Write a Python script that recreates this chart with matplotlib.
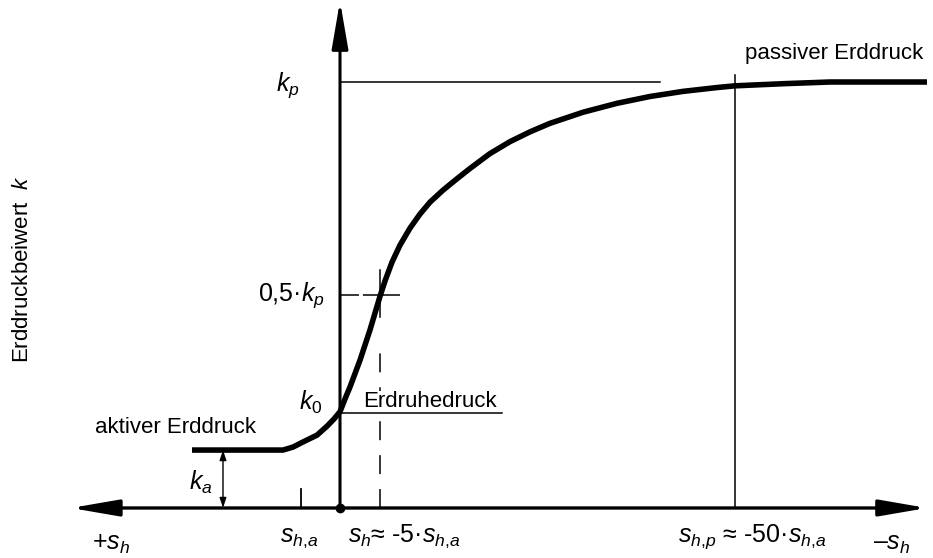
import matplotlib
matplotlib.use('Agg')
import matplotlib.pyplot as plt

matplotlib.rcParams['font.family'] = 'Liberation Sans'
matplotlib.rcParams['mathtext.fontset'] = 'custom'
matplotlib.rcParams['mathtext.rm'] = 'Liberation Sans'
matplotlib.rcParams['mathtext.it'] = 'Liberation Sans:italic'
matplotlib.rcParams['font.size'] = 16

# Verschiebung s (Einheit: s_h,a) und Erddruckbeiwert k (Einheit: k_p)
s_curve = [-3.795, -1.462, -1.205, -0.949, -0.590, -0.333, -0.154, 0.0, 0.128, 0.256,
           0.513, 0.769, 1.026, 1.154, 1.333, 1.538, 1.795, 2.051, 2.308, 2.641, 2.974,
           3.333, 3.846, 4.359, 4.872, 5.385, 6.231, 7.103, 7.949, 8.795, 9.667, 10.128,
           11.359, 12.564, 15.051]
k_curve = [0.136, 0.136, 0.143, 0.155, 0.171, 0.192, 0.209, 0.226, 0.256, 0.284,
           0.347, 0.418, 0.497, 0.533, 0.577, 0.617, 0.657, 0.690, 0.718, 0.746, 0.771,
           0.797, 0.832, 0.860, 0.883, 0.903, 0.929, 0.950, 0.966, 0.978, 0.987, 0.991,
           0.996, 1.0, 1.0]

k_p = 1.0
k_half = 0.5
k_0 = 0.223
k_a = 0.136
s_ha = -1.0
s_half = 1.03
s_hp = 10.13

fig = plt.figure(figsize=(9.33, 5.58), dpi=100)
ax = fig.add_axes([0, 0, 1, 1])
ax.set_xlim(-8.718, 15.205)
ax.set_ylim(-0.1174, 1.1925)
ax.axis('off')

# Achsen mit Pfeilen
ax.annotate('', xy=(15.05, 0), xytext=(-6.9, 0),
            arrowprops=dict(arrowstyle='<|-|>,head_length=29,head_width=5', mutation_scale=1,
                            lw=2.4, color='k', shrinkA=0, shrinkB=0))
ax.annotate('', xy=(0, 1.19), xytext=(0, 0),
            arrowprops=dict(arrowstyle='-|>,head_length=29,head_width=5', mutation_scale=1,
                            lw=2.2, color='k', shrinkA=0, shrinkB=0))
ax.plot([0], [0], 'o', color='k', ms=6, zorder=5)

# Hilfslinien
ax.plot([0, 8.21], [k_p, k_p], color='k', lw=1.1)
ax.plot([0, 4.15], [k_0, k_0], color='k', lw=1.1)
ax.plot([s_hp, s_hp], [0, 1.016], color='k', lw=1.1)
ax.plot([0, 1.54], [k_half, k_half], color='k', lw=1.1, dashes=(12.4, 2.6, 40, 10))
ax.plot([s_half, s_half], [0, 0.38], color='k', lw=1.1, dashes=(12.4, 9.8))
ax.plot([s_half, s_half], [0.448, 0.559], color='k', lw=1.1)
ax.plot([s_ha, s_ha], [0, 0.045], color='k', lw=1.3)
ax.annotate('', xy=(-3.0, k_a), xytext=(-3.0, 0),
            arrowprops=dict(arrowstyle='<|-|>,head_length=6,head_width=2', mutation_scale=1,
                            lw=1.0, color='k', shrinkA=0, shrinkB=0))

# Kurve
ax.plot(s_curve, k_curve, color='k', lw=4, solid_capstyle='butt', solid_joinstyle='round')

# Beschriftungen
ax.text(-1.03, 0.993, '$k_p$', ha='right', va='center', fontsize=18)
ax.text(-0.38, 0.5, '0,5·$k_p$', ha='right', va='center', fontsize=18)
ax.text(-0.44, 0.249, '$k_0$', ha='right', va='center', fontsize=18)
ax.text(-3.26, 0.061, '$k_a$', ha='right', va='center', fontsize=18)
ax.text(0.59, 0.237, 'Erdruhedruck', ha='left', va='baseline',
        bbox=dict(facecolor='white', edgecolor='none', pad=0))
ax.text(-6.28, 0.176, 'aktiver Erddruck', ha='left', va='baseline')
ax.text(10.38, 1.054, 'passiver Erddruck', ha='left', va='baseline')
ax.text(-8.15, 0.559, 'Erddruckbeiwert  $k$', rotation=90, ha='center', va='center')
ax.text(-1.54, -0.080, r'$s_{h,\!a}$', ha='left', va='baseline', fontsize=18)
ax.text(0.21, -0.080, r'$s_h$≈ -5·$s_{h,\!a}$', ha='left', va='baseline', fontsize=18)
ax.text(8.67, -0.080, r'$s_{h,\!p}$ ≈ -50·$s_{h,\!a}$', ha='left', va='baseline', fontsize=18)
ax.text(-6.36, -0.099, '+$s_h$', ha='left', va='baseline', fontsize=18)
ax.text(13.67, -0.099, '–$s_h$', ha='left', va='baseline', fontsize=18)

fig.savefig('out.png', dpi=100)
